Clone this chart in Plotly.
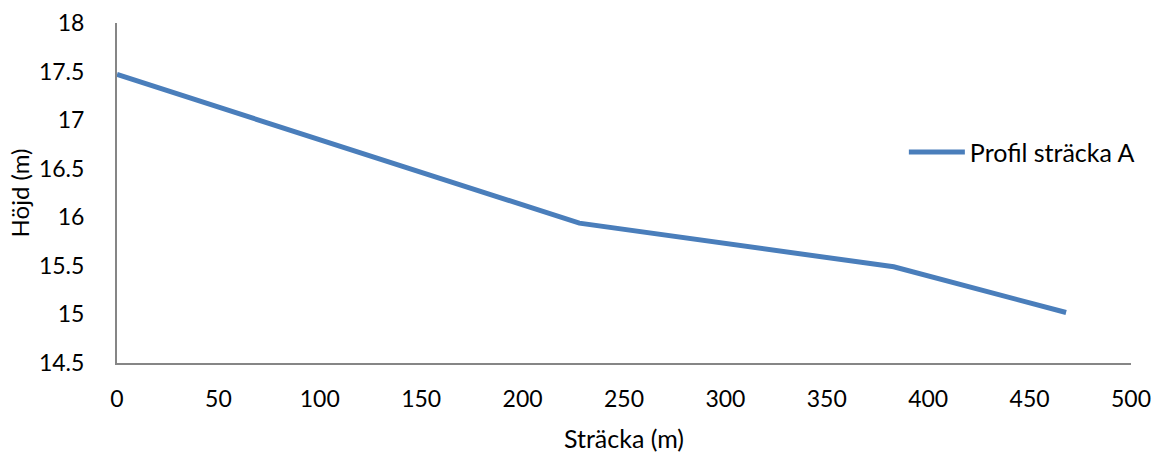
import plotly.graph_objects as go

# Profile of section A: distance along the route vs. elevation
stracka_m = [0, 228, 383, 468]
hojd_m = [17.47, 15.94, 15.49, 15.02]
serie_namn = "Profil sträcka A"

x_ticks = [0, 50, 100, 150, 200, 250, 300, 350, 400, 450, 500]
y_ticks = [14.5, 15, 15.5, 16, 16.5, 17, 17.5, 18]

FONT = "Lato, 'Open Sans', sans-serif"
AXIS_GREY = "#868686"
LINE_BLUE = "#4a7ebb"
FS = 23

fig = go.Figure()
fig.add_trace(go.Scatter(
    x=stracka_m, y=hojd_m, mode="lines", name=serie_namn,
    line=dict(color=LINE_BLUE, width=5),
))

fig.update_layout(
    width=1172, height=458,
    margin=dict(l=117, r=41, t=23, b=95),
    paper_bgcolor="white", plot_bgcolor="white",
    font=dict(family=FONT, size=FS, color="#000000"),
    showlegend=True,
    legend=dict(
        x=0.776, y=0.62, xanchor="left", yanchor="middle",
        bgcolor="rgba(0,0,0,0)", font=dict(size=25), itemwidth=56,
    ),
    xaxis=dict(
        range=[0, 500], tickvals=x_ticks, ticktext=[str(v) for v in x_ticks],
        showgrid=False, zeroline=False, showline=True, linecolor=AXIS_GREY,
        linewidth=2, ticks="", ticklabelstandoff=14, automargin=False,
        title=dict(text="Sträcka (m)", font=dict(size=25), standoff=20),
    ),
    yaxis=dict(
        range=[14.5, 18], tickvals=y_ticks, ticktext=[f"{v:g}" for v in y_ticks],
        showgrid=False, zeroline=False, showline=True, linecolor=AXIS_GREY,
        linewidth=2, ticks="", ticklabelstandoff=26, automargin=False,
        title=dict(text="Höjd (m)", font=dict(size=24), standoff=3),
    ),
)

fig.write_html("out.html")
